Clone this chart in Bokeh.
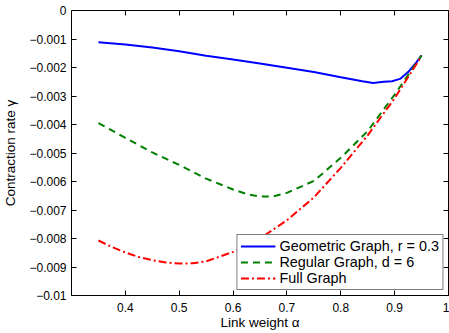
from bokeh.plotting import figure
from bokeh.models import LinearAxis, FixedTicker, Legend, LegendItem, Range1d
from bokeh.embed import file_html
from bokeh.resources import INLINE

# ---- data ----
alpha_geo = [0.35, 0.40, 0.45, 0.50, 0.55, 0.60, 0.65, 0.70, 0.75, 0.80, 0.84, 0.86,
             0.88, 0.895, 0.91, 0.925, 0.94, 0.95]
gamma_geo = [-0.00111, -0.00119, -0.00130, -0.00143, -0.00159, -0.00172, -0.00186,
             -0.00201, -0.00216, -0.00234, -0.00248, -0.00254, -0.00250, -0.00248,
             -0.00240, -0.00216, -0.00183, -0.00157]

alpha_reg = [0.35, 0.40, 0.45, 0.50, 0.55, 0.60, 0.625, 0.65, 0.675, 0.70, 0.75, 0.80,
             0.85, 0.90, 0.95]
gamma_reg = [-0.00395, -0.00447, -0.00498, -0.00542, -0.00590, -0.00628, -0.00644,
             -0.00653, -0.00652, -0.00640, -0.00598, -0.00517, -0.00423, -0.00295,
             -0.00158]

alpha_full = [0.35, 0.375, 0.40, 0.425, 0.45, 0.475, 0.50, 0.525, 0.55, 0.60, 0.65, 0.70,
              0.75, 0.80, 0.85, 0.90, 0.95]
gamma_full = [-0.00807, -0.00830, -0.00849, -0.00865, -0.00876, -0.00884, -0.00888,
              -0.00887, -0.00880, -0.00847, -0.00800, -0.00736, -0.00656, -0.00552,
              -0.00438, -0.00308, -0.00160]

x_ticks = [0.4, 0.5, 0.6, 0.7, 0.8, 0.9, 1.0]
x_labels = ["0.4", "0.5", "0.6", "0.7", "0.8", "0.9", "1"]
y_ticks = [0.0, -0.001, -0.002, -0.003, -0.004, -0.005, -0.006, -0.007, -0.008, -0.009, -0.01]
y_labels = ["0", "\u22120.001", "\u22120.002", "\u22120.003", "\u22120.004", "\u22120.005",
            "\u22120.006", "\u22120.007", "\u22120.008", "\u22120.009", "\u22120.01"]

series_names = ["Geometric Graph, r = 0.3", "Regular Graph, d = 6", "Full Graph"]

FONT = "Liberation Sans"

p = figure(width=449, height=333, output_backend="svg", toolbar_location=None,
           x_range=Range1d(0.3, 1.0), y_range=Range1d(-0.01, 0.0),
           min_border_left=70, min_border_right=1, min_border_top=10, min_border_bottom=38)
p.background_fill_color = "white"
p.border_fill_color = "white"
p.outline_line_color = "black"
p.outline_line_width = 1
p.xgrid.visible = False
p.ygrid.visible = False

r1 = p.line(alpha_geo, gamma_geo, line_color="#0000ff", line_width=2)
r2 = p.line(alpha_reg, gamma_reg, line_color="#008000", line_width=2, line_dash="7 5")
r3 = p.line(alpha_full, gamma_full, line_color="#ff0000", line_width=2, line_dash="8 3 2 3")

def style(ax, labels=True):
    ax.axis_line_color = None
    ax.major_tick_in = 5
    ax.major_tick_out = 0
    ax.minor_tick_line_color = None
    ax.major_tick_line_color = "black"
    ax.major_label_text_font = FONT
    ax.axis_label_text_font = FONT
    ax.axis_label_text_font_style = "normal"
    ax.axis_label_text_color = "black"
    if labels:
        ax.major_label_text_color = "black"
        ax.major_label_text_font_size = "12px"
        ax.axis_label_text_font_size = "13.5px"
    else:
        ax.major_label_text_color = None
        ax.major_label_text_font_size = "1px"
        ax.major_label_standoff = 0

xa = p.xaxis[0]
ya = p.yaxis[0]
xa.ticker = FixedTicker(ticks=x_ticks)
xa.major_label_overrides = {t: l for t, l in zip(x_ticks, x_labels)}
ya.ticker = FixedTicker(ticks=y_ticks)
ya.major_label_overrides = {t: l for t, l in zip(y_ticks, y_labels)}
style(xa)
style(ya)
xa.axis_label = "Link weight \u03b1"
ya.axis_label = "Contraction rate \u03b3"
xa.major_label_standoff = 7
ya.major_label_standoff = 5
xa.axis_label_standoff = 0
ya.axis_label_standoff = 8

top = LinearAxis(ticker=FixedTicker(ticks=x_ticks))
style(top, labels=False)
p.add_layout(top, "above")
right = LinearAxis(ticker=FixedTicker(ticks=y_ticks))
style(right, labels=False)
p.add_layout(right, "right")

legend = Legend(items=[LegendItem(label=series_names[0], renderers=[r1]),
                       LegendItem(label=series_names[1], renderers=[r2]),
                       LegendItem(label=series_names[2], renderers=[r3])],
                location="bottom_right")
legend.margin = 5
legend.padding = 3
legend.spacing = 0
legend.glyph_width = 35
legend.glyph_height = 16
legend.label_height = 16
legend.label_standoff = 4
legend.label_text_font = FONT
legend.label_text_font_size = "14.4px"
legend.label_text_color = "black"
legend.border_line_color = "black"
legend.border_line_width = 1
legend.background_fill_alpha = 1.0
p.add_layout(legend, "center")

open("out.html", "w").write(file_html(p, INLINE))
